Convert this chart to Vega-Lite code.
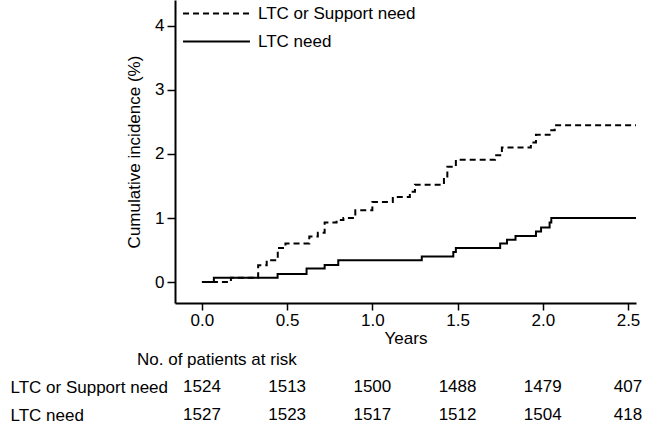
{
  "$schema": "https://vega.github.io/schema/vega-lite/v6.json",
  "padding": {"left": 10, "top": 0, "right": 5, "bottom": 0},
  "background": "white",
  "spacing": 5,
  "config": {
    "view": {"stroke": null},
    "font": "Liberation Sans",
    "axis": {
      "domainColor": "black", "domainWidth": 2, "tickColor": "black", "tickWidth": 1.5,
      "labelColor": "black", "labelFontSize": 17, "labelFont": "Liberation Sans",
      "titleColor": "#000000", "titleFontSize": 17, "titleFont": "Liberation Sans", "titleFontWeight": "normal",
      "grid": false
    },
    "legend": {"labelFont": "Liberation Sans", "labelFontSize": 17, "labelColor": "black"},
    "title": {"font": "Liberation Sans", "fontSize": 17, "fontWeight": "normal", "color": "black"}
  },
  "datasets": {
    "curves": [
      {"series": "LTC or Support need", "t": 0, "ci": 0},
      {"series": "LTC or Support need", "t": 0.17, "ci": 0.065},
      {"series": "LTC or Support need", "t": 0.33, "ci": 0.26},
      {"series": "LTC or Support need", "t": 0.38, "ci": 0.34},
      {"series": "LTC or Support need", "t": 0.445, "ci": 0.53},
      {"series": "LTC or Support need", "t": 0.49, "ci": 0.60},
      {"series": "LTC or Support need", "t": 0.63, "ci": 0.71},
      {"series": "LTC or Support need", "t": 0.68, "ci": 0.77},
      {"series": "LTC or Support need", "t": 0.72, "ci": 0.93},
      {"series": "LTC or Support need", "t": 0.79, "ci": 0.97},
      {"series": "LTC or Support need", "t": 0.83, "ci": 1.0},
      {"series": "LTC or Support need", "t": 0.90, "ci": 1.12},
      {"series": "LTC or Support need", "t": 1.0, "ci": 1.25},
      {"series": "LTC or Support need", "t": 1.12, "ci": 1.33},
      {"series": "LTC or Support need", "t": 1.22, "ci": 1.41},
      {"series": "LTC or Support need", "t": 1.25, "ci": 1.52},
      {"series": "LTC or Support need", "t": 1.42, "ci": 1.65},
      {"series": "LTC or Support need", "t": 1.44, "ci": 1.80},
      {"series": "LTC or Support need", "t": 1.49, "ci": 1.91},
      {"series": "LTC or Support need", "t": 1.72, "ci": 1.98},
      {"series": "LTC or Support need", "t": 1.76, "ci": 2.10},
      {"series": "LTC or Support need", "t": 1.93, "ci": 2.18},
      {"series": "LTC or Support need", "t": 1.96, "ci": 2.30},
      {"series": "LTC or Support need", "t": 2.04, "ci": 2.37},
      {"series": "LTC or Support need", "t": 2.07, "ci": 2.45},
      {"series": "LTC or Support need", "t": 2.55, "ci": 2.45},
      {"series": "LTC need", "t": 0, "ci": 0},
      {"series": "LTC need", "t": 0.07, "ci": 0.065},
      {"series": "LTC need", "t": 0.444, "ci": 0.125},
      {"series": "LTC need", "t": 0.614, "ci": 0.21},
      {"series": "LTC need", "t": 0.72, "ci": 0.265},
      {"series": "LTC need", "t": 0.80, "ci": 0.34},
      {"series": "LTC need", "t": 1.29, "ci": 0.40},
      {"series": "LTC need", "t": 1.475, "ci": 0.47},
      {"series": "LTC need", "t": 1.49, "ci": 0.53},
      {"series": "LTC need", "t": 1.75, "ci": 0.60},
      {"series": "LTC need", "t": 1.79, "ci": 0.66},
      {"series": "LTC need", "t": 1.84, "ci": 0.72},
      {"series": "LTC need", "t": 1.96, "ci": 0.79},
      {"series": "LTC need", "t": 1.99, "ci": 0.85},
      {"series": "LTC need", "t": 2.04, "ci": 0.93},
      {"series": "LTC need", "t": 2.05, "ci": 1.0},
      {"series": "LTC need", "t": 2.55, "ci": 1.0}
    ],
    "risk": [
      {"group": "LTC or Support need", "t": 0, "n": 1524},
      {"group": "LTC or Support need", "t": 0.5, "n": 1513},
      {"group": "LTC or Support need", "t": 1.0, "n": 1500},
      {"group": "LTC or Support need", "t": 1.5, "n": 1488},
      {"group": "LTC or Support need", "t": 2.0, "n": 1479},
      {"group": "LTC or Support need", "t": 2.5, "n": 407},
      {"group": "LTC need", "t": 0, "n": 1527},
      {"group": "LTC need", "t": 0.5, "n": 1523},
      {"group": "LTC need", "t": 1.0, "n": 1517},
      {"group": "LTC need", "t": 1.5, "n": 1512},
      {"group": "LTC need", "t": 2.0, "n": 1504},
      {"group": "LTC need", "t": 2.5, "n": 418}
    ]
  },
  "vconcat": [
    {
      "width": 461,
      "height": 303,
      "data": {"name": "curves"},
      "mark": {"type": "line", "interpolate": "step-after", "strokeWidth": 2, "color": "black", "clip": true},
      "encoding": {
        "x": {
          "field": "t", "type": "quantitative",
          "scale": {"domain": [-0.158, 2.547], "nice": false, "zero": false},
          "axis": {"values": [0, 0.5, 1, 1.5, 2, 2.5], "format": ".1f", "title": "Years", "tickSize": 7, "labelPadding": 2, "titlePadding": 2, "labelFlush": false}
        },
        "y": {
          "field": "ci", "type": "quantitative",
          "scale": {"domain": [-0.328, 4.406], "nice": false, "zero": false},
          "axis": {"values": [0, 1, 2, 3, 4], "title": "Cumulative incidence (%)", "tickSize": 8, "labelPadding": 3, "titlePadding": 11, "labelFlush": false}
        },
        "strokeDash": {
          "field": "series", "type": "nominal",
          "scale": {"domain": ["LTC or Support need", "LTC need"], "range": [[6, 4], [1, 0]]},
          "legend": {
            "title": null, "orient": "none", "legendX": 32, "legendY": 4, "padding": 0,
            "symbolType": "M-4,0H4", "symbolSize": 280, "symbolStrokeWidth": 2, "symbolStrokeColor": "black",
            "labelOffset": 32, "rowPadding": 10
          }
        }
      }
    },
    {
      "width": 461,
      "height": 56,
      "title": {"text": "No. of patients at risk", "anchor": "start", "frame": "group", "dx": -38, "offset": 4},
      "data": {"name": "risk"},
      "mark": {"type": "text", "fontSize": 17, "font": "Liberation Sans", "color": "black", "align": "center", "baseline": "middle"},
      "encoding": {
        "x": {"field": "t", "type": "quantitative", "scale": {"domain": [-0.158, 2.547], "nice": false, "zero": false}, "axis": null},
        "y": {
          "field": "group", "type": "nominal", "sort": ["LTC or Support need", "LTC need"],
          "axis": {"title": null, "domain": false, "ticks": false, "tickSize": 0, "labelAlign": "left", "labelPadding": 165, "labelFontSize": 17, "labelLimit": 300}
        },
        "text": {"field": "n", "type": "quantitative"}
      }
    }
  ]
}
